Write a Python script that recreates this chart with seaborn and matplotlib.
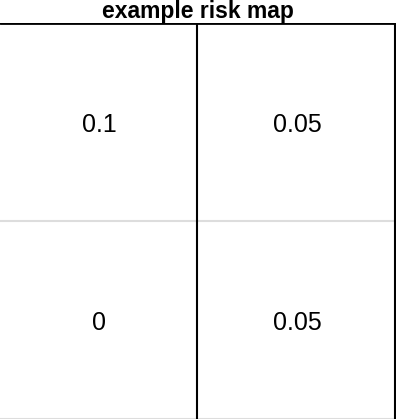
import numpy as np
import pandas as pd
import matplotlib
matplotlib.use('Agg')
import matplotlib.pyplot as plt
from matplotlib.colors import ListedColormap
import seaborn as sns

sns.set_style('white')
plt.rcParams['font.family'] = ['Liberation Sans', 'DejaVu Sans']

# Risk values per cell (rows top to bottom)
rows = ['high', 'low']
cols = ['low', 'high']
risk_top = [0.1, 0.05]
risk_bottom = [0, 0.05]

risk = pd.DataFrame([risk_top, risk_bottom], index=rows, columns=cols)

fig = plt.figure(figsize=(3.96, 4.2), dpi=100)
ax = fig.add_axes([0, 1 / 420, 1, 396 / 420])

sns.heatmap(risk, ax=ax, cmap=ListedColormap(['white']), cbar=False,
            annot=True, fmt='g',
            annot_kws={'size': 18, 'color': 'black', 'va': 'center_baseline'},
            xticklabels=False, yticklabels=False)

# grid lines as in the original
ax.axhline(0, color='black', lw=2)
for y in [1, 2]:
    ax.axhline(y, color='#dddddd', lw=1.5)
for x in [1, 2]:
    ax.axvline(x - 0.005, color='black', lw=1.5)

ax.set_title('example risk map', fontsize=16.5, fontweight='bold', color='black', pad=0.5)
ax.set_xlabel('')
ax.set_ylabel('')

fig.savefig('out.png', dpi=100)
